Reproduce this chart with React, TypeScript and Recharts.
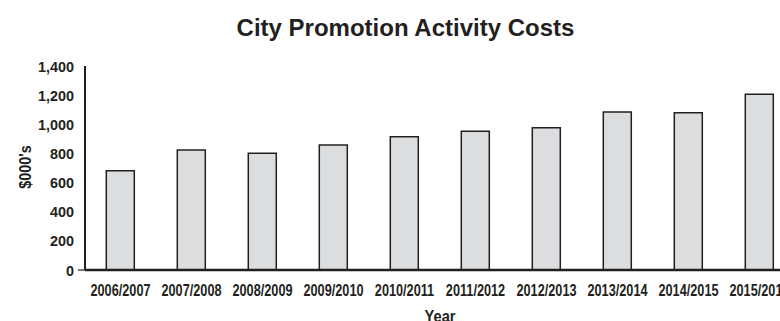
import React from "react";
import { BarChart, Bar, XAxis, YAxis, Label } from "recharts";

const years = [
  "2006/2007",
  "2007/2008",
  "2008/2009",
  "2009/2010",
  "2010/2011",
  "2011/2012",
  "2012/2013",
  "2013/2014",
  "2014/2015",
  "2015/2016",
];
const costs = [681, 824, 801, 858, 915, 952, 977, 1084, 1080, 1206];
const yTicks = [0, 200, 400, 600, 800, 1000, 1200, 1400];

const data = years.map((y, i) => ({ year: y, cost: costs[i] }));

const DARK = "#231f20";
const FONT = "'Liberation Sans', Arial, sans-serif";

const YTick = (props: any) => {
  const { x, y, payload } = props;
  const label = payload.value.toLocaleString("en-US");
  return (
    <g>
      {payload.value === 0 && (
        <line x1={x + 4} x2={x + 11} y1={y} y2={y} stroke={DARK} strokeWidth={1.2} />
      )}
      <text
        transform={`translate(${x},${y}) scale(0.93,1)`}
        x={0}
        y={0}
        dy="0.36em"
        textAnchor="end"
        fontFamily={FONT}
        fontWeight="bold"
        fontSize={15.5}
        fill={DARK}
      >
        {label}
      </text>
    </g>
  );
};

const XTick = (props: any) => {
  const { x, y, payload } = props;
  return (
    <text
      transform={`translate(${x},${y}) scale(0.77,1)`}
      x={0}
      y={0}
      dy="0.71em"
      textAnchor="middle"
      fontFamily={FONT}
      fontWeight="bold"
      fontSize={16.5}
      fill={DARK}
    >
      {payload.value}
    </text>
  );
};

export default function App() {
  return (
    <div style={{ position: "absolute", left: 0, top: 0, width: 780, height: 321, background: "#fff" }}>
      <BarChart
        width={780}
        height={321}
        data={data}
        margin={{ top: 66, right: -15, bottom: 0, left: 0 }}
        barCategoryGap="30%"
      >
        <XAxis
          dataKey="year"
          height={51}
          tickLine={false}
          tickSize={6}
          tickMargin={8}
          axisLine={{ stroke: DARK, strokeWidth: 2.5 }}
          tick={<XTick />}
          interval={0}
        >
          <Label
            content={(p: any) => {
              const vb = p.viewBox;
              const cx = vb.x + vb.width / 2;
              const by = vb.y + 51.5;
              return (
                <text
                  transform={`translate(${cx},${by}) scale(0.89,1)`}
                  x={0}
                  y={0}
                  textAnchor="middle"
                  fontFamily={FONT}
                  fontWeight="bold"
                  fontSize={16.5}
                  fill={DARK}
                >
                  Year
                </text>
              );
            }}
          />
        </XAxis>
        <YAxis
          width={85}
          domain={[0, 1400]}
          ticks={yTicks}
          interval={0}
          tickLine={false}
          tickSize={9}
          tickMargin={2}
          axisLine={{ stroke: DARK, strokeWidth: 2 }}
          tick={<YTick />}
        >
          <Label
            content={(p: any) => {
              const vb = p.viewBox;
              const cx = vb.x + 25;
              const cy = vb.y + vb.height / 2 - 1;
              return (
                <text
                  transform={`translate(${cx},${cy}) rotate(-90) scale(0.9,1)`}
                  x={0}
                  y={0}
                  textAnchor="middle"
                  dominantBaseline="central"
                  fontFamily={FONT}
                  fontWeight="bold"
                  fontSize={16}
                  fill={DARK}
                >
                  $000's
                </text>
              );
            }}
          />
        </YAxis>
        <Bar
          dataKey="cost"
          fill="#dcdddf"
          stroke={DARK}
          strokeWidth={1.5}
          isAnimationActive={false}
        />
      </BarChart>
      <svg
        width={780}
        height={50}
        style={{ position: "absolute", left: 0, top: 0, pointerEvents: "none" }}
      >
        <text
          x={405.5}
          y={36}
          textAnchor="middle"
          fontFamily={FONT}
          fontWeight="bold"
          fontSize={24}
          fill={DARK}
        >
          City Promotion Activity Costs
        </text>
      </svg>
    </div>
  );
}
